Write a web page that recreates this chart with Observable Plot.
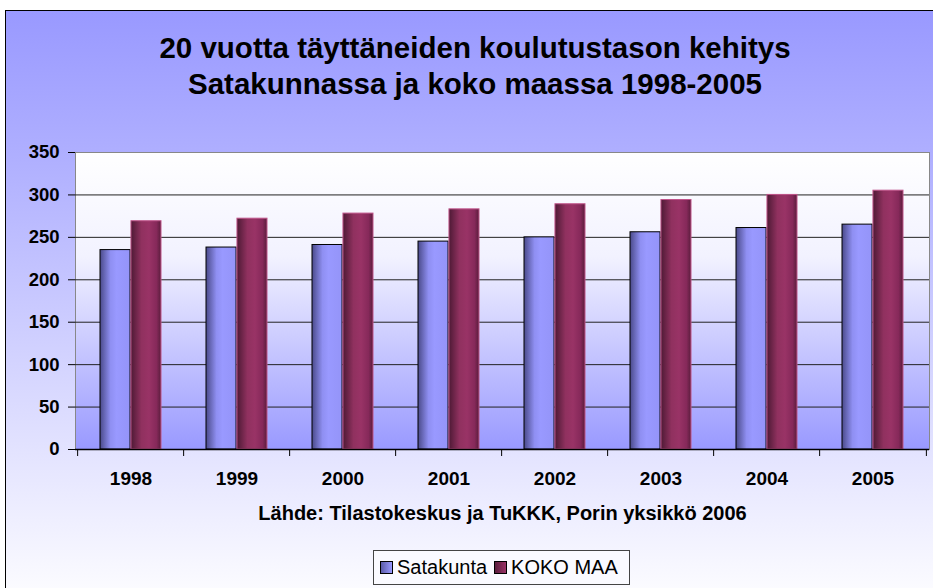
<!DOCTYPE html>
<html><head><meta charset="utf-8">
<script src="https://cdn.jsdelivr.net/npm/d3@7"></script>
<script src="https://cdn.jsdelivr.net/npm/@observablehq/plot@0.6"></script>
<style>
body{margin:0;background:#fff;font-family:"Liberation Sans",Arial,sans-serif;}
#wrap{position:relative;width:933px;height:588px;overflow:hidden;}
#bg{position:absolute;left:5px;top:10px;width:940px;height:600px;border:1px solid #000;background:linear-gradient(#9999ff 0%, #b0b0ff 25%, #ffffff 100%);}
#title{position:absolute;left:11px;width:928px;top:30px;text-align:center;font-weight:bold;font-size:29.5px;line-height:36px;color:#000;}
#chart{position:absolute;left:0;top:0;}
#caption{position:absolute;top:501px;left:75px;width:855px;text-align:center;font-weight:bold;font-size:20px;line-height:24px;color:#000;}
#legend{position:absolute;left:373px;top:550px;width:257px;height:35px;border:1px solid #444;background:#fafaff;display:flex;align-items:center;font-size:20px;color:#000;box-sizing:border-box;padding-left:6px;white-space:nowrap;}
#legend .sw{display:inline-block;width:11px;height:11px;border:1px solid #000;margin-right:4px;flex-shrink:0;}
#legend .item{display:inline-flex;align-items:center;margin-right:7px;flex-shrink:0;}
</style></head>
<body>
<div id="wrap">
  <div id="bg"></div>
  <div id="title">20 vuotta täyttäneiden koulutustason kehitys<br>Satakunnassa ja koko maassa 1998-2005</div>
  <div id="chart"></div>
  <div id="caption">Lähde: Tilastokeskus ja TuKKK, Porin yksikkö 2006</div>
  <div id="legend"></div>
</div>
<script>
const years = ["1998","1999","2000","2001","2002","2003","2004","2005"];
const satakunta = [235,238,241,245,250,256,261,265];
const kokoMaa = [269,272,278,283,289,294,300,305];
const yTicks = [0,50,100,150,200,250,300,350];
const seriesNames = ["Satakunta","KOKO MAA"];

const rows = years.map((y,i)=>({year:y, sata:satakunta[i], koko:kokoMaa[i]}));
const W = 933, H = 500, mL = 75, mR = 4, mT = 152, mB = 51;
const halfStep = (W - mL - mR) / years.length / 2;

const plot = Plot.plot({
  width: W, height: H,
  marginLeft: mL, marginRight: mR, marginTop: mT, marginBottom: mB,
  style: {background: "transparent", fontFamily: "Liberation Sans, Arial, sans-serif", color: "#000", overflow: "visible"},
  x: {domain: years, paddingInner: 0.42, paddingOuter: 0.21, label: null},
  y: {domain: [0, 350], label: null},
  marks: [
    Plot.frame({fill: "url(#plotBg)", stroke: "#888", strokeWidth: 1}),
    Plot.ruleY(yTicks.filter(t => t > 0 && t < 350), {stroke: "#222", strokeWidth: 1}),
    Plot.barY(rows, {x: "year", y: "sata", insetRight: halfStep * 0.58, fill: "url(#gSata)", stroke: "#000", strokeWidth: 1}),
    Plot.barY(rows, {x: "year", y: "koko", insetLeft: halfStep * 0.58, fill: "url(#gKoko)", stroke: "#c0548a", strokeWidth: 1}),
    Plot.ruleY([0], {stroke: "#000", strokeWidth: 1.5}),
    Plot.ruleX(years, {x: d => d, dx: -halfStep, y1: 0, y2: 0, insetBottom: -7, stroke: "#000"}),
    Plot.ruleX([years[years.length-1]], {x: d => d, dx: halfStep, y1: 0, y2: 0, insetBottom: -7, stroke: "#000"}),
    Plot.axisY({ticks: yTicks, tickSize: 7, tickPadding: 9, fontSize: 18.5, fontWeight: "bold", tickFormat: d => String(d), stroke: "#000"}),
    Plot.ruleX([0], {frameAnchor: "left", stroke: "#000", strokeWidth: 1.5}),
    Plot.axisX({tickSize: 0, tickPadding: 22, fontSize: 19, fontWeight: "bold"})
  ]
});

const svg = d3.select(plot);
const defs = svg.insert("defs", ":first-child");
const pb = defs.append("linearGradient").attr("id","plotBg").attr("x1",0).attr("y1",0).attr("x2",0).attr("y2",1);
pb.append("stop").attr("offset","0%").attr("stop-color","#ffffff");
pb.append("stop").attr("offset","35%").attr("stop-color","#f2f2ff");
pb.append("stop").attr("offset","100%").attr("stop-color","#9999ff");
const gs = defs.append("linearGradient").attr("id","gSata").attr("x1",0).attr("y1",0).attr("x2",1).attr("y2",0);
[["0%","#4a4a8a"],["35%","#8f8ff2"],["55%","#9999ff"],["100%","#9494f8"]].forEach(([o,c])=>gs.append("stop").attr("offset",o).attr("stop-color",c));
const gk = defs.append("linearGradient").attr("id","gKoko").attr("x1",0).attr("y1",0).attr("x2",1).attr("y2",0);
[["0%","#4e1a35"],["35%","#90315f"],["60%","#993366"],["85%","#86295a"],["100%","#5a1d3c"]].forEach(([o,c])=>gk.append("stop").attr("offset",o).attr("stop-color",c));

document.getElementById("chart").appendChild(plot);

const leg = d3.select("#legend");
seriesNames.forEach((n,i)=>{
  const item = leg.append("span").attr("class","item");
  item.append("span").attr("class","sw").style("background", i===0 ? "linear-gradient(90deg,#5a5aa8,#9999ff)" : "linear-gradient(90deg,#5a1d3c,#993366)");
  item.append("span").text(n);
});
</script>
</body></html>
